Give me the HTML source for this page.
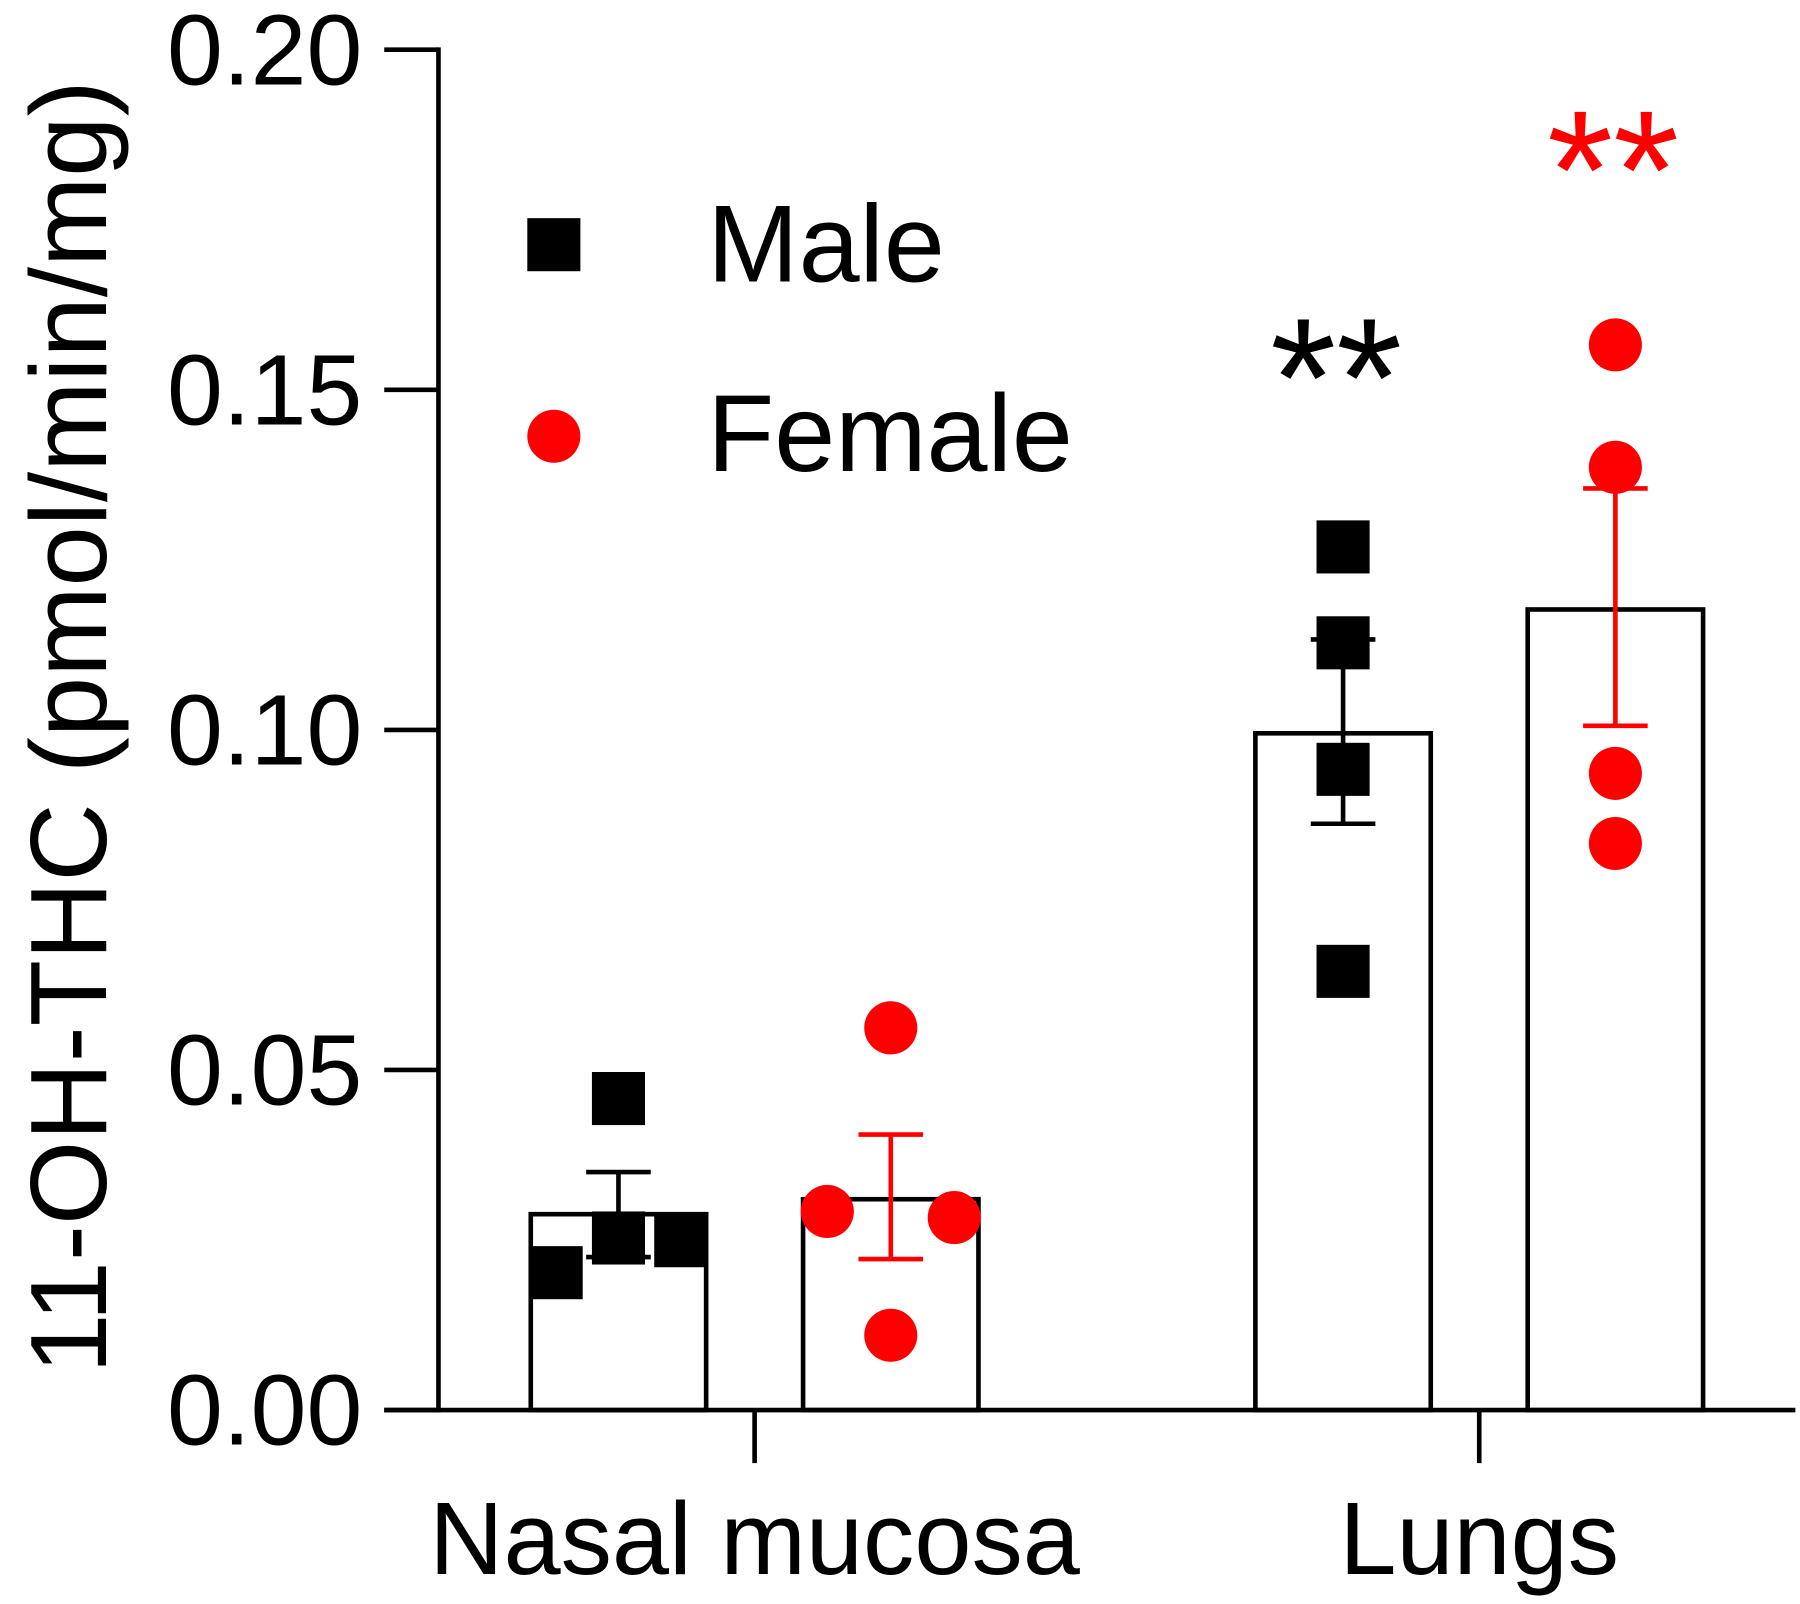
<!DOCTYPE html>
<html><head><meta charset="utf-8"><style>
html,body{margin:0;padding:0;background:#fff;}
svg{display:block;}
text{font-family:"Liberation Sans",Arial,sans-serif;}
</style></head><body>
<svg id="chart" width="1800" height="1604" viewBox="0 0 1560 1390" xmlns="http://www.w3.org/2000/svg"></svg>
<script>
const categories=["Nasal mucosa","Lungs"];
const groups=["Male","Female"];
const means=[[0.0288,0.0310],[0.0995,0.1177]];
const semHigh=[[0.0350,0.0405],[0.1133,0.1355]];
const semLow=[[0.0225,0.0222],[0.0862,0.1006]];
const maleNasal=[0.0202,0.0458,0.0253,0.0249];
const femaleNasal=[0.0562,0.0292,0.0283,0.0110];
const maleLungs=[0.1269,0.1128,0.0942,0.0645];
const femaleLungs=[0.1566,0.1386,0.0936,0.0833];
const yTicks=[0,0.05,0.10,0.15,0.20];
const yTickLabels=["0.00","0.05","0.10","0.15","0.20"];

const NS="http://www.w3.org/2000/svg";
const svg=document.getElementById('chart');
const y0=1222,yTop=43;
function Y(v){return y0-(v/0.2)*(y0-yTop);}
const catCenter=[654,1282];
const barW=152, off=118;
function barX(ci,gi){return catCenter[ci]+(gi===0?-off:off);}
function el(tag,attrs,parent){const e=document.createElementNS(NS,tag);for(const k in attrs)e.setAttribute(k,attrs[k]);(parent||svg).appendChild(e);return e;}
const colors=["#000","#f00"];

for(let ci=0;ci<2;ci++)for(let gi=0;gi<2;gi++){
  const cx=barX(ci,gi);
  const b=el('rect',{x:cx-barW/2,y:Y(means[ci][gi]),width:barW,height:y0-Y(means[ci][gi]),fill:'#fff',stroke:'#000','stroke-width':4});
  
  
}
const pts=[[maleNasal,femaleNasal],[maleLungs,femaleLungs]];
const jitter=[[[-54,0,0,54],[0,-55,55,0]],[[0,0,0,0],[0,0,0,0]]];
for(let ci=0;ci<2;ci++)for(let gi=0;gi<2;gi++){
  pts[ci][gi].forEach((v,i)=>{
    const x=barX(ci,gi)+jitter[ci][gi][i];
    let m;
    if(gi===0)m=el('rect',{x:x-23,y:Y(v)-23,width:46,height:46,fill:'#000'});
    else m=el('circle',{cx:x,cy:Y(v),r:23,fill:'#f00'});
    
    
  });
}
for(let ci=0;ci<2;ci++)for(let gi=0;gi<2;gi++){
  const x=barX(ci,gi),c=colors[gi];
  const g=el('g',{stroke:c,'stroke-width':4});
  
  
  el('line',{x1:x,x2:x,y1:Y(semHigh[ci][gi]),y2:Y(semLow[ci][gi])},g);
  el('line',{x1:x-28,x2:x+28,y1:Y(semHigh[ci][gi]),y2:Y(semHigh[ci][gi])},g);
  el('line',{x1:x-28,x2:x+28,y1:Y(semLow[ci][gi]),y2:Y(semLow[ci][gi])},g);
}
const ya=el('line',{x1:380,x2:380,y1:yTop-2,y2:y0+2,stroke:'#000','stroke-width':4});

const xa=el('line',{x1:333,x2:1556,y1:y0,y2:y0,stroke:'#000','stroke-width':4});

yTicks.forEach((v,i)=>{
  const t=el('line',{x1:333,x2:380,y1:Y(v),y2:Y(v),stroke:'#000','stroke-width':4});
  
  const l=el('text',{x:314,y:Y(v)+30,'text-anchor':'end','font-size':87,fill:'#000'});
  l.textContent=yTickLabels[i];
  
});
categories.forEach((c,i)=>{
  const t=el('line',{x1:catCenter[i],x2:catCenter[i],y1:y0,y2:1268,stroke:'#000','stroke-width':4});
  
  const l=el('text',{x:catCenter[i],y:1364,'text-anchor':'middle','font-size':89,fill:'#000'});
  l.textContent=c;
  
});
const yt=el('text',{x:0,y:0,transform:'translate(92,630) rotate(-90)','text-anchor':'middle','font-size':94,fill:'#000'});
yt.textContent="11-OH-THC (pmol/min/mg)";

const lg=el('g',{});

el('rect',{x:457,y:189,width:46,height:46,fill:'#000'},lg);
const t1=el('text',{x:613,y:244,'font-size':95,fill:'#000'},lg);t1.textContent="Male";

el('circle',{cx:480,cy:378,r:23,fill:'#f00'},lg);
const t2=el('text',{x:613,y:408,'font-size':95,fill:'#000'},lg);t2.textContent="Female";

const s1=el('text',{x:1158,y:378,'text-anchor':'middle','font-size':147,fill:'#000'});
s1.textContent="**";
const s2=el('text',{x:1398,y:198,'text-anchor':'middle','font-size':147,fill:'#f00'});
s2.textContent="**";
</script>
</body></html>
